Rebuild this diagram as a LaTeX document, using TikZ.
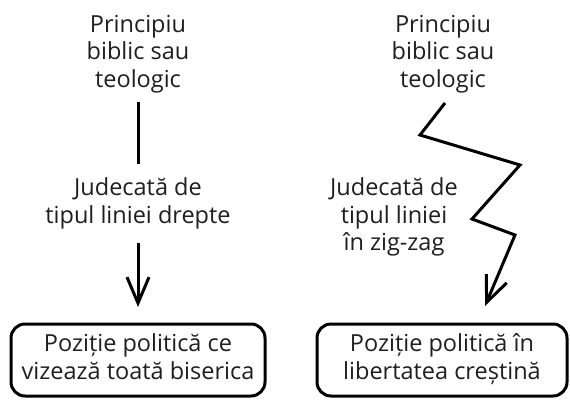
\documentclass[tikz,border=0pt]{standalone}
\usepackage{fontspec}
\setmainfont{Open Sans}
\usetikzlibrary{arrows.meta}
\begin{document}
\begin{tikzpicture}[x=1pt,y=-1pt,
  txt/.style={inner sep=0pt,align=center,text=black!88,font=\fontsize{23.5}{27.5}\selectfont},
  box/.style={txt,draw=black,line width=3pt,rounded corners=14pt,minimum width=254pt,minimum height=72pt},
  conn/.style={line width=3pt,draw=black},
  arr/.style={conn,-{Straight Barb[length=26pt,width=22pt,line width=3pt]}},
  zz/.style={conn,line join=miter,-{Straight Barb[length=26pt,width=22pt,line width=3pt]}}]
\useasboundingbox (0,0) rectangle (570,399);
\fill[white] (0,0) rectangle (570,399);
% left column
\node[txt] (t1) at (138,54) {Principiu\\biblic sau\\teologic};
\node[txt] (j1) at (138,203.5) {Judecată de\\tipul liniei drepte};
\node[box] (b1) at (138,360) {Poziție politică ce\\vizează toată biserica\rule[-7pt]{0pt}{7pt}};
\coordinate (l1a) at (138,102);
\coordinate (l1b) at (138,164);
\coordinate (a1a) at (138,243);
\coordinate (a1b) at (138,307);
\draw[conn] (l1a) -- (l1b);
\draw[arr] (a1a) -- (a1b);
% right column
\node[txt] (t2) at (443,54) {Principiu\\biblic sau\\teologic};
\node[txt] (j2) at (394,217) {Judecată de\\tipul liniei\\în zig-zag};
\node[box,minimum width=250pt] (b2) at (442,360) {Poziție politică în\\libertatea creștină\rule[-7pt]{0pt}{7pt}};
\coordinate (z0) at (445,103);
\coordinate (z1) at (420,135);
\coordinate (z2) at (520,165);
\coordinate (z3) at (472,219);
\coordinate (z4) at (515,235);
\coordinate (z5) at (485,306);
\draw[zz] (z0) -- (z1) -- (z2) -- (z3) -- (z4) -- (z5);
\end{tikzpicture}
\end{document}
